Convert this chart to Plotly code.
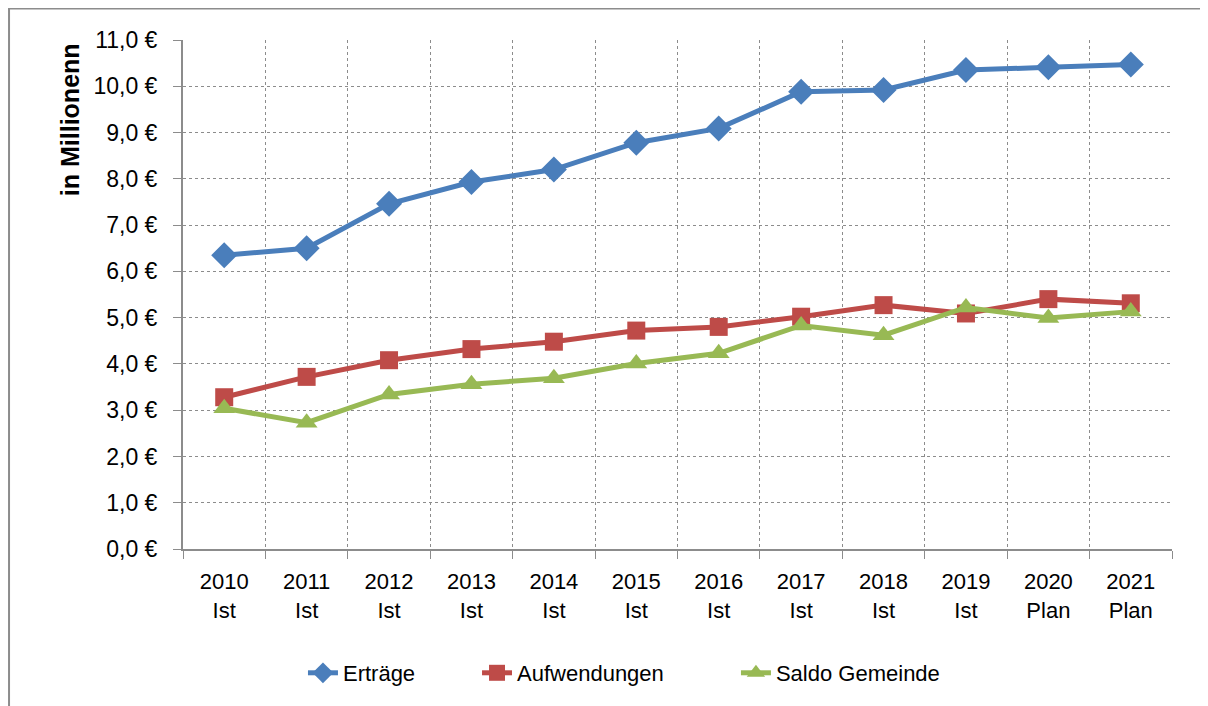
import plotly.graph_objects as go

years = ["2010", "2011", "2012", "2013", "2014", "2015", "2016", "2017", "2018", "2019", "2020", "2021"]
status = ["Ist", "Ist", "Ist", "Ist", "Ist", "Ist", "Ist", "Ist", "Ist", "Ist", "Plan", "Plan"]
categories = [f"{y}<br>{s}" for y, s in zip(years, status)]

ertraege = [6.35, 6.50, 7.46, 7.93, 8.20, 8.78, 9.09, 9.88, 9.92, 10.35, 10.41, 10.47]
aufwendungen = [3.28, 3.72, 4.08, 4.32, 4.48, 4.72, 4.80, 5.02, 5.27, 5.09, 5.40, 5.31]
saldo = [3.04, 2.73, 3.34, 3.56, 3.69, 4.01, 4.23, 4.83, 4.62, 5.22, 4.99, 5.13]

series = [
    ("Erträge", ertraege, "#4A7EBB", "diamond", 20, "legend", 0.1213),
    ("Aufwendungen", aufwendungen, "#BE4B48", "square", 18, "legend2", 0.2973),
    ("Saldo Gemeinde", saldo, "#98B954", "triangle-up", 19, "legend3", 0.5591),
]

FONT = "Liberation Sans"
FS = 23
GRID = "#8c8c8c"

fig = go.Figure()
legends = {}
for name, vals, color, sym, size, leg, lx in series:
    fig.add_trace(go.Scatter(
        x=categories, y=vals, name=name, mode="lines+markers",
        line=dict(color=color, width=5),
        marker=dict(symbol=sym, size=size, color=color),
        legend=leg,
    ))
    legends[leg] = dict(orientation="h", x=lx, xanchor="left", y=-0.2436, yanchor="middle",
                        font=dict(family=FONT, size=FS - 1), bgcolor="rgba(0,0,0,0)")

fig.update_layout(
    width=1200, height=698,
    margin=dict(l=175, r=36, t=32, b=157),
    paper_bgcolor="white", plot_bgcolor="white",
    separators=",.",
    font=dict(family=FONT, size=FS, color="black"),
    showlegend=True,
    xaxis=dict(
        type="category", range=[-0.5, 11.5],
        tickson="boundaries", ticks="outside", ticklen=8, tickcolor=GRID,
        showline=True, linecolor=GRID, linewidth=2,
        showgrid=True, gridcolor=GRID, griddash="dot", gridwidth=1,
        tickfont=dict(family=FONT, size=FS - 1), ticklabelstandoff=12,
    ),
    yaxis=dict(
        range=[0, 11], dtick=1, tick0=0, tickformat=".1f", ticksuffix=" €",
        ticks="outside", ticklen=8, tickcolor=GRID,
        showline=True, linecolor=GRID, linewidth=2,
        showgrid=True, gridcolor=GRID, griddash="dot", gridwidth=1,
        zeroline=False, tickfont=dict(family=FONT, size=FS), ticklabelstandoff=11,
    ),
    annotations=[dict(text="<b>in Millionenn</b>", xref="paper", yref="paper",
                      x=-0.114, y=0.843, textangle=-90, showarrow=False,
                      xanchor="center", yanchor="middle",
                      font=dict(family=FONT, size=25, color="black"))],
    shapes=[dict(type="rect", xref="paper", yref="paper",
                 x0=-0.1759, x1=1.2, y0=-0.5, y1=1.0619,
                 line=dict(color=GRID, width=2), layer="below")],
    **legends,
)

fig.write_html("out.html")
